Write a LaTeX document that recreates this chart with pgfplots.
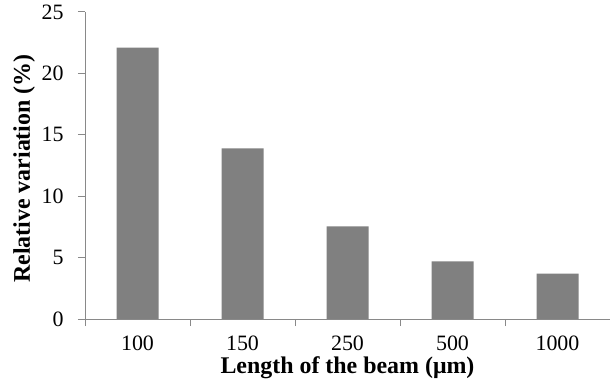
\documentclass[border=0pt]{standalone}
\usepackage{pgfplots}
\pgfplotsset{compat=1.18}
\usepackage{fontspec}
\setmainfont{Liberation Serif}
\definecolor{barc}{HTML}{808080}
\definecolor{axc}{HTML}{898989}
\begin{document}
\begin{tikzpicture}
\begin{axis}[
  at={(85bp,71bp)}, anchor=south west,
  scale only axis, width=525bp, height=307bp,
  xmin=-0.5, xmax=4.5, ymin=0, ymax=25,
  axis x line=bottom, axis y line=left,
  axis line style={axc, line width=1pt, -},
  xtick={0,1,2,3,4},
  xticklabels={100,150,250,500,1000},
  minor xtick={-0.5,0.5,1.5,2.5,3.5,4.5},
  ytick={0,5,10,15,20,25},
  major x tick style={draw=none},
  minor x tick style={axc, line width=1pt},
  major y tick style={axc, line width=1pt},
  tick align=outside,
  major tick length=7bp, minor tick length=7bp,
  ticklabel style={font=\fontsize{22}{25}\selectfont},
  /pgf/number format/assume math mode=true,
  xticklabel style={anchor=base, yshift=-24bp},
  yticklabel style={xshift=-11bp},
  xlabel={\textbf{Length of the beam (μm)}},
  ylabel={\textbf{Relative variation (\%)}},
  label style={font=\fontsize{24}{27}\selectfont},
  xlabel style={at={(axis description cs:0.5,-0.176)}, anchor=base},
  ylabel style={at={(axis description cs:-0.105,0.49)}, anchor=base},
  ybar, bar width=0.4,
]
\addplot[fill=barc, draw=none] coordinates {(0,22.1) (1,13.9) (2,7.55) (3,4.7) (4,3.7)};
\end{axis}
\pgfresetboundingbox
\path (0,0) rectangle (610bp,390bp);
\end{tikzpicture}
\end{document}
